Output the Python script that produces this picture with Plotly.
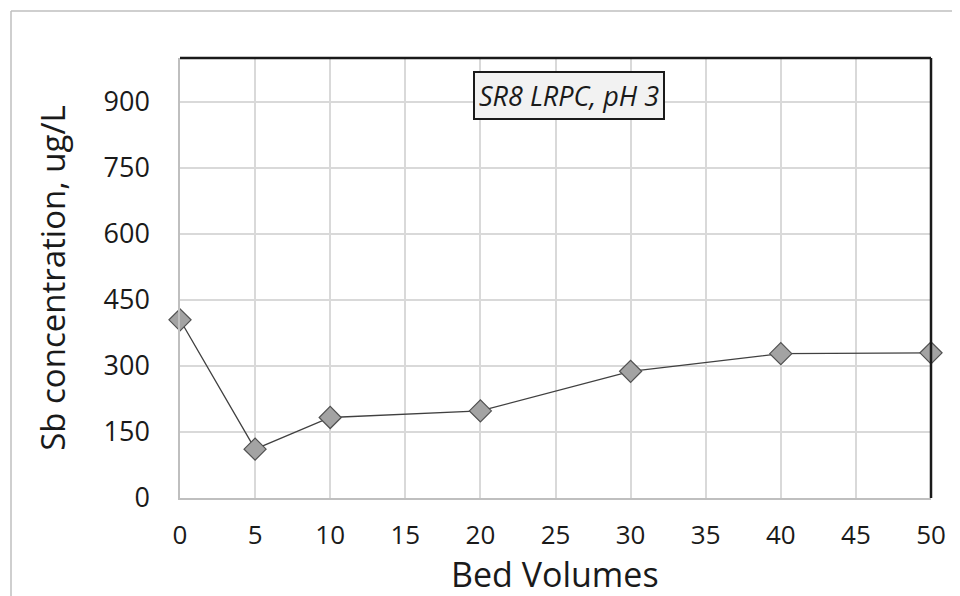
import plotly.graph_objects as go

bed_volumes = [0, 5, 10, 20, 30, 40, 50]
sb_conc = [405, 111, 183, 198, 288, 328, 330]
x_ticks = [0, 5, 10, 15, 20, 25, 30, 35, 40, 45, 50]
y_ticks = [0, 150, 300, 450, 600, 750, 900]
label_text = "SR8 LRPC, pH 3"
x_title = "Bed Volumes"
y_title = "Sb concentration, ug/L"

FONT = "Open Sans, Lato, sans-serif"

# page offset of the figure div (default body margin)
OFF = 8
L, R, T, B = 180 - OFF, 960 - 931 + OFF, 58 - OFF, 596 - 498 + OFF
PW, PH = 960 - L - R, 596 - T - B

fig = go.Figure()
fig.add_trace(go.Scatter(
    x=bed_volumes, y=sb_conc, mode="lines+markers",
    line=dict(color="#404040", width=1.3),
    marker=dict(symbol="diamond", size=17, color="#a3a3a3",
                line=dict(color="#505050", width=1.2)),
    cliponaxis=False, showlegend=False,
))

fx = lambda px: (px - OFF - L) / PW
fy = lambda py: (596 - B - (py - OFF)) / PH

fig.update_layout(
    width=960, height=596,
    margin=dict(l=L, r=R, t=T, b=B),
    paper_bgcolor="white", plot_bgcolor="white",
    font=dict(family=FONT, color="#1a1a1a"),
    xaxis=dict(
        range=[0, 50], tickvals=x_ticks, ticktext=[str(v) for v in x_ticks],
        showgrid=True, gridcolor="#d9d9d9", gridwidth=1.5,
        showline=True, linecolor="#bfbfbf", linewidth=1.5,
        zeroline=False, ticks="", ticklabelstandoff=13,
        tickfont=dict(size=26, family=FONT, color="#1a1a1a"),
    ),
    yaxis=dict(
        range=[0, 1000], tickvals=y_ticks, ticktext=[str(v) for v in y_ticks],
        showgrid=True, gridcolor="#d9d9d9", gridwidth=1.5,
        showline=True, linecolor="#bfbfbf", linewidth=1.5,
        zeroline=False, ticks="", ticklabelstandoff=23,
        tickfont=dict(size=27, family=FONT, color="#1a1a1a"),
        title=dict(text=y_title, font=dict(size=33, family=FONT, color="#1a1a1a"), standoff=28),
    ),
    shapes=[
        dict(type="line", xref="paper", yref="paper", x0=0, x1=1, y0=1, y1=1,
             line=dict(color="#1a1a1a", width=2.5)),
        dict(type="line", xref="paper", yref="paper", x0=1, x1=1, y0=0, y1=1,
             line=dict(color="#1a1a1a", width=2.5)),
        # outer chart frame (top and left edges visible)
        dict(type="line", xref="paper", yref="paper",
             x0=fx(11), x1=fx(970), y0=fy(11), y1=fy(11),
             line=dict(color="#bfbfbf", width=1.5)),
        dict(type="line", xref="paper", yref="paper",
             x0=fx(11), x1=fx(11), y0=fy(610), y1=fy(11),
             line=dict(color="#bfbfbf", width=1.5)),
    ],
    annotations=[
        dict(text="<i>" + label_text + "</i>", xref="paper", yref="paper",
             x=fx(569), y=fy(95), xanchor="center", yanchor="middle",
             showarrow=False, font=dict(size=27, family=FONT, color="#1a1a1a"),
             bgcolor="#f2f2f2", bordercolor="#1a1a1a", borderwidth=2, borderpad=4),
        dict(text=x_title, xref="paper", yref="paper",
             x=fx(555), y=fy(598), xanchor="center", yanchor="bottom",
             showarrow=False, font=dict(size=34, family=FONT, color="#1a1a1a"),
             borderpad=0),
    ],
)

fig.write_html("out.html")
